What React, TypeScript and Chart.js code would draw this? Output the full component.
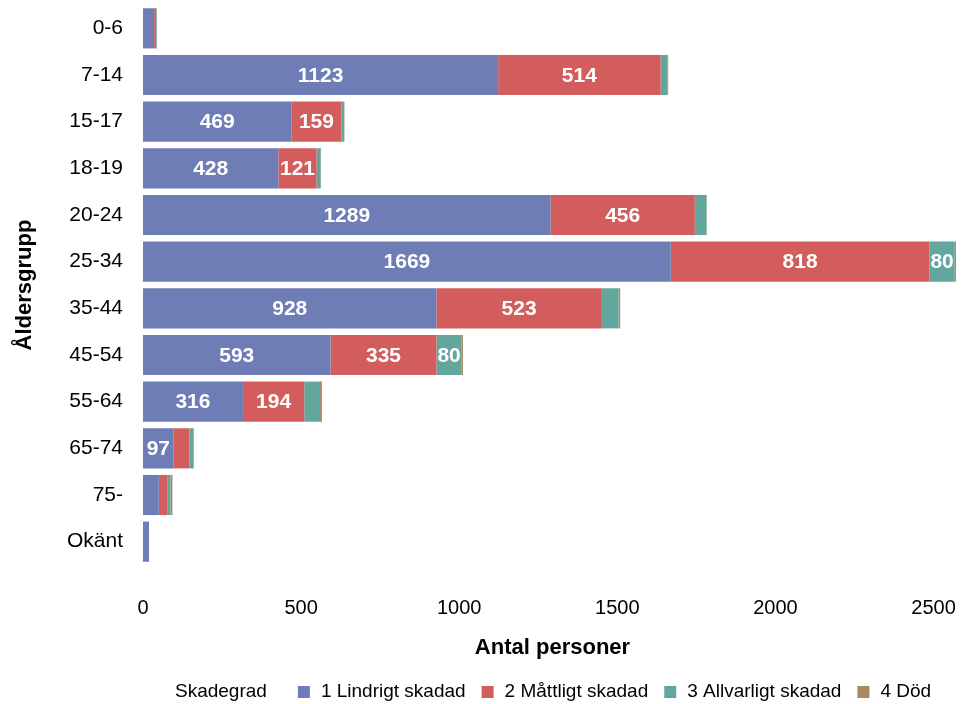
import React, { useEffect, useRef } from "react";
import { Chart, registerables } from "chart.js";

Chart.register(...registerables);

const categories = ["0-6", "7-14", "15-17", "18-19", "20-24", "25-34", "35-44", "45-54", "55-64", "65-74", "75-", "Okänt"];
const lindrigt = [35, 1123, 469, 428, 1289, 1669, 928, 593, 316, 97, 50, 19];
const mattligt = [6, 514, 159, 121, 456, 818, 523, 335, 194, 50, 28, 0];
const allvarligt = [2, 22, 8, 13, 37, 80, 53, 80, 50, 13, 9, 0];
const dod = [1, 2, 1, 1, 1, 4, 5, 4, 6, 1, 6, 0];
const seriesNames = ["1 Lindrigt skadad", "2 Måttligt skadad", "3 Allvarligt skadad", "4 Död"];
const seriesColors = ["#6E7DB6", "#D35D5D", "#63A69E", "#A9895F"];
const xTicks = [0, 500, 1000, 1500, 2000, 2500];
const xMax = 2590;
const legendTitle = "Skadegrad";
const labelThreshold = 75;

const FONT = "'Liberation Sans', Arial, sans-serif";

const valueLabels = {
  id: "valueLabels",
  afterDatasetsDraw(chart: any) {
    const ctx = chart.ctx;
    ctx.save();
    ctx.font = `bold 21px ${FONT}`;
    ctx.fillStyle = "#ffffff";
    ctx.textAlign = "center";
    ctx.textBaseline = "middle";
    chart.data.datasets.forEach((ds: any, i: number) => {
      const meta = chart.getDatasetMeta(i);
      meta.data.forEach((el: any, j: number) => {
        const v = ds.data[j];
        if (v >= labelThreshold) {
          const cx = (el.x + el.base) / 2;
          ctx.fillText(String(v), cx, el.y + 1);
        }
      });
    });
    ctx.restore();
  },
};

const customLegend = {
  id: "customLegend",
  afterDraw(chart: any) {
    const ctx = chart.ctx;
    ctx.save();
    ctx.font = `19px ${FONT}`;
    ctx.textBaseline = "middle";
    ctx.textAlign = "left";
    const y = 692;
    let x = 175;
    ctx.fillStyle = "#000000";
    ctx.fillText(legendTitle, x, y);
    x += ctx.measureText(legendTitle).width + 31;
    seriesNames.forEach((name, i) => {
      ctx.fillStyle = seriesColors[i];
      ctx.fillRect(x, y - 6, 12, 12);
      x += 23;
      ctx.fillStyle = "#000000";
      ctx.fillText(name, x, y);
      x += ctx.measureText(name).width + 16;
    });
    ctx.restore();
  },
};

export default function App() {
  const ref = useRef<HTMLCanvasElement | null>(null);
  useEffect(() => {
    if (!ref.current) return;
    const data = [lindrigt, mattligt, allvarligt, dod];
    const chart = new Chart(ref.current, {
      type: "bar",
      data: {
        labels: categories,
        datasets: seriesNames.map((name, i) => ({
          label: name,
          data: data[i],
          backgroundColor: seriesColors[i],
          borderWidth: 0,
          barPercentage: 0.86,
          categoryPercentage: 1,
        })),
      },
      options: {
        indexAxis: "y",
        animation: false,
        responsive: true,
        maintainAspectRatio: false,
        layout: { padding: { top: 5, right: 1, bottom: 43, left: 0 } },
        plugins: {
          legend: { display: false },
          tooltip: { enabled: false },
        },
        scales: {
          x: {
            stacked: true,
            min: 0,
            max: xMax,
            grid: { display: false, drawTicks: false },
            border: { display: false },
            ticks: {
              stepSize: 500,
              padding: 31,
              color: "#000000",
              font: { family: FONT, size: 20 },
              callback: (v: any) => String(v),
            },
            afterBuildTicks: (scale: any) => {
              scale.ticks = xTicks.map((v) => ({ value: v }));
            },
            afterFit: (scale: any) => {
              scale.height = 96;
              scale.paddingLeft = 0;
              scale.paddingRight = 0;
            },
            title: {
              display: true,
              text: "Antal personer",
              color: "#000000",
              padding: 0,
              font: { family: FONT, size: 22, weight: "bold" },
            },
          },
          y: {
            stacked: true,
            grid: { display: false, drawTicks: false },
            border: { display: false },
            ticks: {
              padding: 20,
              color: "#000000",
              font: { family: FONT, size: 21 },
            },
            afterFit: (scale: any) => {
              scale.width = 143;
              scale.paddingTop = 0;
              scale.paddingBottom = 0;
            },
            title: {
              display: true,
              text: "Åldersgrupp",
              color: "#000000",
              padding: { top: 12, bottom: 0 },
              font: { family: FONT, size: 22, weight: "bold" },
            },
          },
        },
      },
      plugins: [valueLabels, customLegend],
    } as any);
    return () => chart.destroy();
  }, []);
  return (
    <div style={{ position: "fixed", left: 0, top: 0, width: 963, height: 704, background: "#ffffff" }}>
      <canvas ref={ref} />
    </div>
  );
}
